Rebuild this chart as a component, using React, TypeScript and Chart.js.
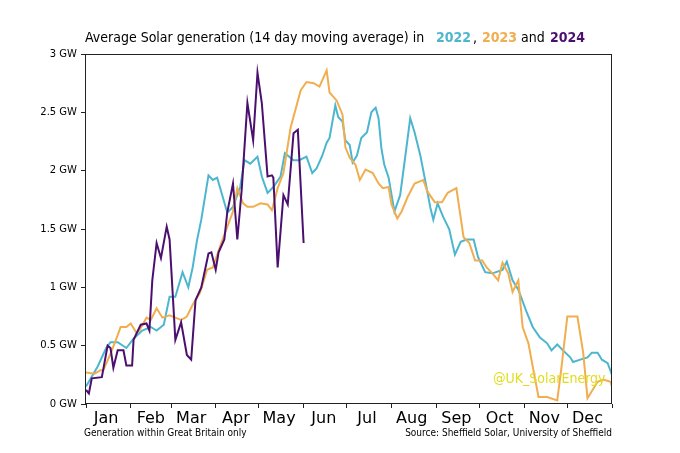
import React, { useEffect, useRef } from 'react';
import { Chart, registerables } from 'chart.js';
Chart.register(...registerables);

const monthNames = ['Jan', 'Feb', 'Mar', 'Apr', 'May', 'Jun', 'Jul', 'Aug', 'Sep', 'Oct', 'Nov', 'Dec'];
const monthStarts = [0, 31, 59, 90, 120, 151, 181, 212, 243, 273, 304, 334, 365];
const monthMids = [14, 45, 73, 104, 134, 165, 195, 226, 257, 287, 318, 348];

const days2022 = [0, 8, 14, 17, 22, 28, 33, 39, 45, 49, 54, 58, 62, 67, 71, 74, 77, 80, 85, 88, 91, 95, 98, 102, 107, 110, 114, 119, 122, 126, 130, 135, 138, 144, 148, 153, 157, 160, 164, 167, 169, 173, 175, 178, 180, 183, 185, 188, 191, 195, 198, 201, 203, 205, 207, 210, 214, 218, 221, 225, 228, 232, 235, 239, 241, 244, 248, 252, 256, 260, 264, 269, 272, 277, 282, 289, 292, 296, 300, 306, 310, 315, 320, 323, 327, 331, 336, 338, 343, 348, 351, 355, 358, 362, 365];
const gen2022 = [0.15, 0.32, 0.48, 0.53, 0.53, 0.48, 0.56, 0.63, 0.66, 0.63, 0.68, 0.92, 0.92, 1.13, 1.0, 1.17, 1.4, 1.58, 1.96, 1.92, 1.94, 1.77, 1.64, 1.69, 1.86, 2.09, 2.06, 2.12, 1.95, 1.81, 1.86, 1.95, 2.15, 2.09, 2.09, 2.12, 1.98, 2.02, 2.13, 2.24, 2.28, 2.56, 2.46, 2.42, 2.26, 2.22, 2.07, 2.13, 2.28, 2.33, 2.5, 2.54, 2.45, 2.19, 2.05, 1.94, 1.65, 1.79, 2.07, 2.45, 2.33, 2.13, 1.94, 1.68, 1.58, 1.72, 1.6, 1.5, 1.28, 1.39, 1.41, 1.41, 1.26, 1.13, 1.12, 1.15, 1.22, 1.06, 0.98, 0.78, 0.66, 0.57, 0.52, 0.46, 0.51, 0.46, 0.4, 0.36, 0.38, 0.4, 0.44, 0.44, 0.38, 0.35, 0.25];

const days2023 = [0, 6, 10, 12, 17, 22, 24, 28, 31, 35, 37, 42, 45, 49, 53, 58, 62, 66, 70, 74, 79, 84, 88, 93, 99, 102, 105, 109, 112, 116, 121, 126, 129, 133, 137, 142, 149, 153, 158, 162, 167, 169, 174, 178, 180, 183, 187, 190, 194, 199, 203, 206, 210, 212, 216, 219, 223, 228, 234, 237, 242, 247, 251, 257, 262, 266, 270, 275, 278, 282, 286, 289, 293, 296, 300, 303, 307, 310, 314, 320, 327, 330, 334, 341, 345, 348, 355, 359, 364, 365];
const gen2023 = [0.27, 0.26, 0.29, 0.29, 0.43, 0.59, 0.66, 0.66, 0.69, 0.61, 0.63, 0.74, 0.72, 0.82, 0.74, 0.76, 0.74, 0.72, 0.75, 0.85, 0.95, 1.15, 1.17, 1.35, 1.55, 1.65, 1.85, 1.72, 1.69, 1.69, 1.72, 1.71, 1.66, 1.85, 1.98, 2.37, 2.69, 2.76, 2.75, 2.72, 2.86, 2.67, 2.6, 2.48, 2.2, 2.11, 2.05, 1.92, 2.01, 1.98, 1.89, 1.85, 1.86, 1.71, 1.59, 1.65, 1.77, 1.89, 1.92, 1.82, 1.73, 1.73, 1.81, 1.85, 1.43, 1.38, 1.23, 1.23, 1.17, 1.12, 1.06, 1.21, 1.12, 0.96, 1.06, 0.66, 0.52, 0.32, 0.06, 0.06, 0.03, 0.32, 0.75, 0.75, 0.44, 0.05, 0.19, 0.21, 0.19, 0.15];

const days2024 = [0, 2, 4, 11, 15, 17, 19, 22, 26, 28, 32, 33, 38, 42, 44, 46, 49, 52, 56, 58, 60, 62, 66, 70, 73, 76, 80, 85, 87, 90, 92, 96, 98, 102, 105, 108, 112, 116, 119, 122, 126, 129, 130, 133, 137, 140, 144, 147, 151];
const gen2024 = [0.12, 0.09, 0.22, 0.23, 0.5, 0.48, 0.31, 0.46, 0.46, 0.33, 0.33, 0.55, 0.68, 0.69, 0.63, 1.06, 1.38, 1.25, 1.52, 1.41, 0.98, 0.55, 0.7, 0.42, 0.38, 0.89, 1.0, 1.29, 1.3, 1.15, 1.3, 1.41, 1.64, 1.89, 1.41, 1.83, 2.58, 2.26, 2.84, 2.58, 1.95, 1.96, 1.94, 1.17, 1.79, 1.71, 2.32, 2.35, 1.38];

const COLOR_2022 = '#4db6cf';
const COLOR_2023 = '#f0ae50';
const COLOR_2024 = '#4b106f';

const toPoints = (xs: number[], ys: number[]) => xs.map((x, i) => ({ x, y: ys[i] }));

const FONT = "'DejaVu Sans Condensed', 'DejaVu Sans', sans-serif";

export default function App() {
  const ref = useRef<HTMLCanvasElement>(null);

  useEffect(() => {
    if (!ref.current) return;
    const boxPlugin = {
      id: 'boxPlugin',
      afterDraw(chart: any) {
        const { ctx, chartArea: a } = chart;
        ctx.save();
        ctx.strokeStyle = '#222';
        ctx.lineWidth = 1;
        const l = Math.round(a.left) - 0.5;
        const t = Math.round(a.top) + 0.5;
        const r = Math.round(a.right) - 0.5;
        const b = Math.round(a.bottom) - 0.5;
        ctx.strokeRect(l, t, r - l, b - t);
        ctx.restore();
      },
    };
    const xTickValues = [...monthStarts, ...monthMids].sort((p, q) => p - q);
    const chart = new Chart(ref.current, {
      type: 'line',
      data: {
        datasets: [
          { label: '2024', data: toPoints(days2024, gen2024), borderColor: COLOR_2024, borderWidth: 2, pointRadius: 0, tension: 0 },
          { label: '2023', data: toPoints(days2023, gen2023), borderColor: COLOR_2023, borderWidth: 2, pointRadius: 0, tension: 0 },
          { label: '2022', data: toPoints(days2022, gen2022), borderColor: COLOR_2022, borderWidth: 2, pointRadius: 0, tension: 0 },
        ],
      },
      options: {
        animation: false,
        responsive: false,
        layout: { padding: { top: 54, right: 68, bottom: 0, left: 0 } },
        plugins: { legend: { display: false }, tooltip: { enabled: false }, title: { display: false } },
        scales: {
          x: {
            type: 'linear',
            min: 0,
            max: 365,
            afterBuildTicks: (scale: any) => {
              scale.ticks = xTickValues.map((v) => ({ value: v }));
            },
            afterFit: (scale: any) => {
              scale.height = 49;
            },
            ticks: {
              autoSkip: false,
              maxRotation: 0,
              minRotation: 0,
              padding: 1,
              color: '#000',
              font: { family: 'DejaVu Sans', size: 16 },
              callback: (v: any) => {
                const i = monthMids.indexOf(Number(v));
                return i >= 0 ? monthNames[i] : '';
              },
            },
            grid: {
              display: true,
              drawOnChartArea: false,
              drawTicks: true,
              tickLength: 4,
              tickColor: (ctx: any) => (ctx.tick && monthStarts.includes(ctx.tick.value) ? '#222' : 'rgba(0,0,0,0)'),
            },
            border: { display: false },
          },
          y: {
            type: 'linear',
            min: 0,
            max: 3,
            afterFit: (scale: any) => {
              scale.width = 86;
            },
            ticks: {
              stepSize: 0.5,
              padding: 4,
              color: '#000',
              font: { family: 'DejaVu Sans', size: 10 },
              callback: (v: any) => `${v} GW`,
            },
            grid: { display: true, drawOnChartArea: false, drawTicks: true, tickLength: 5, tickColor: '#222' },
            border: { display: false },
          },
        },
      },
      plugins: [boxPlugin],
    } as any);
    return () => chart.destroy();
  }, []);

  const abs = (extra: React.CSSProperties): React.CSSProperties => ({
    position: 'absolute',
    fontFamily: FONT,
    fontStretch: 'condensed',
    whiteSpace: 'nowrap',
    margin: 0,
    ...extra,
  });

  return (
    <div style={{ position: 'absolute', left: 0, top: 0, width: 680, height: 453, background: '#fff', overflow: 'hidden' }}>
      <canvas ref={ref} width={680} height={453} style={{ position: 'absolute', left: 0, top: 0 }} />
      <div style={abs({ left: 85, top: 29, fontSize: 14, lineHeight: '16px', color: '#000' })}>
        Average Solar generation (14 day moving average) in
      </div>
      <div style={abs({ left: 436, top: 29, fontSize: 14, lineHeight: '16px', fontWeight: 'bold', color: COLOR_2022 })}>2022</div>
      <div style={abs({ left: 473, top: 29, fontSize: 14, lineHeight: '16px', color: '#000' })}>,</div>
      <div style={abs({ left: 482, top: 29, fontSize: 14, lineHeight: '16px', fontWeight: 'bold', color: COLOR_2023 })}>2023</div>
      <div style={abs({ left: 521, top: 29, fontSize: 14, lineHeight: '16px', color: '#000' })}>and</div>
      <div style={abs({ left: 550, top: 29, fontSize: 14, lineHeight: '16px', fontWeight: 'bold', color: COLOR_2024 })}>2024</div>
      <div style={abs({ left: 493, top: 370, fontSize: 14, lineHeight: '16px', color: '#e2dc1e' })}>@UK_SolarEnergy</div>
      <div style={abs({ left: 84, top: 427, fontSize: 10, lineHeight: '12px', color: '#000' })}>Generation within Great Britain only</div>
      <div style={abs({ right: 68, top: 427, fontSize: 10, lineHeight: '12px', color: '#000' })}>Source: Sheffield Solar, University of Sheffield</div>
    </div>
  );
}
